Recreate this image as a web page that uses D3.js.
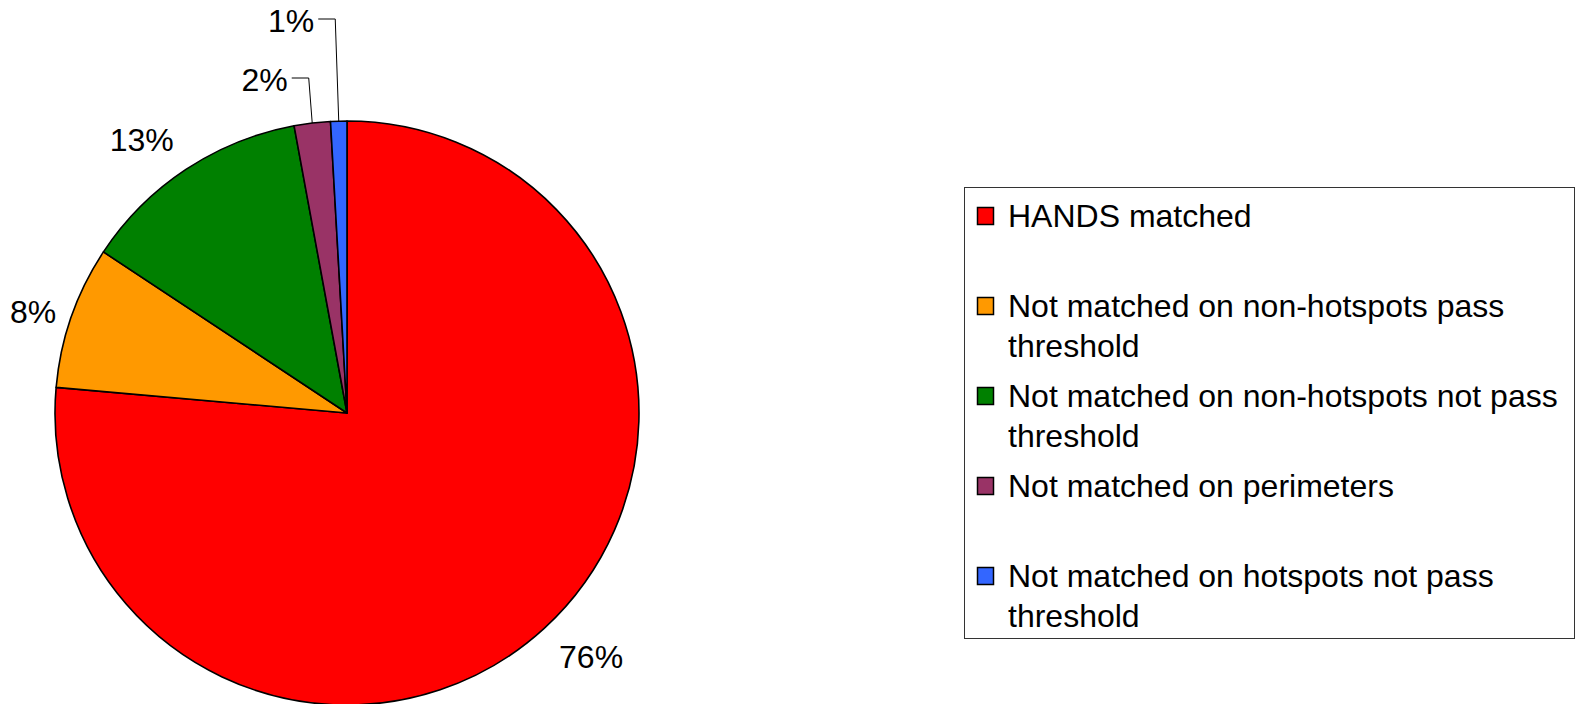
<!DOCTYPE html>
<html>
<head>
<meta charset="utf-8">
<script src="https://cdn.jsdelivr.net/npm/d3@7"></script>
<style>
  html, body { margin: 0; padding: 0; background: #fff; }
  svg { display: block; }
  text { font-family: "Liberation Sans", Arial, sans-serif; fill: #000; }
</style>
</head>
<body>
<svg id="chart" width="1583" height="704"></svg>
<script>
// Share of records by match outcome (percent)
const categories = [
  "HANDS matched",
  "Not matched on non-hotspots pass threshold",
  "Not matched on non-hotspots not pass threshold",
  "Not matched on perimeters",
  "Not matched on hotspots not pass threshold"
];
const values = [76.4, 7.9, 12.8, 2.0, 0.9];
const colors = ["#ff0000", "#ff9900", "#008000", "#993366", "#3366ff"];
// Legend text, wrapped into lines
const legendLines = [
  ["HANDS matched"],
  ["Not matched on non-hotspots pass", "threshold"],
  ["Not matched on non-hotspots not pass", "threshold"],
  ["Not matched on perimeters"],
  ["Not matched on hotspots not pass", "threshold"]
];

const svg = d3.select("#chart");
const cx = 347, cy = 413, r = 292;
const fontSize = 32;

const total = d3.sum(values);
const fmt = v => Math.round(v / total * 100) + "%";

const pie = d3.pie().sort(null).value(d => d).startAngle(0).endAngle(2 * Math.PI);
const arcs = pie(values);
const arc = d3.arc().innerRadius(0).outerRadius(r);

const g = svg.append("g").attr("transform", `translate(${cx},${cy})`);

g.selectAll("path.slice")
  .data(arcs)
  .join("path")
  .attr("class", "slice")
  .attr("d", arc)
  .attr("fill", (d, i) => colors[i])
  .attr("stroke", "#000")
  .attr("stroke-width", 1.6)
  .attr("stroke-linejoin", "round");

// Percentage labels: the box side or corner facing the pie is anchored
// just outside the rim, chosen by which of eight sectors the slice points to.
const capH = 23;
let smallIdx = 0;
arcs.forEach((d, i) => {
  const mid = (d.startAngle + d.endAngle) / 2;
  const dx = Math.sin(mid), dy = -Math.cos(mid);
  const pct = d.value / total * 100;
  const t = g.append("text")
    .attr("font-size", fontSize)
    .text(fmt(d.value));
  const w = t.node().getComputedTextLength();

  if (pct < 3) {
    // small slices near the top: label lifted above the pie with a leader line
    const ex = r * dx, ey = r * dy;
    const ly = -r - 43 - 59 * smallIdx;
    const kx = ex - 3.5;
    g.append("polyline")
      .attr("points", [[ex, ey], [kx, ly], [kx - 17, ly]].map(p => p.join(",")).join(" "))
      .attr("fill", "none")
      .attr("stroke", "#000")
      .attr("stroke-width", 1);
    t.attr("text-anchor", "end")
      .attr("x", kx - 21)
      .attr("y", ly + capH / 2 + 1);
    smallIdx++;
  } else {
    // math angle in degrees, counter-clockwise from 3 o'clock
    let deg = (90 - mid * 180 / Math.PI) % 360;
    if (deg < 0) deg += 360;
    const sector = Math.round(deg / 45) % 8;
    const corner = sector % 2 === 1;
    const rr = r + (corner ? 22 : 16);
    const ax = rr * dx, ay = rr * dy;
    // horizontal alignment factor: 0 = left edge at anchor, 1 = right edge at anchor
    const hx = [0, 0, 0.5, 1, 1, 1, 0.5, 0][sector];
    // vertical: 0 = top at anchor, 1 = bottom at anchor
    const vy = [0.5, 1, 1, 1, 0.5, 0, 0, 0][sector];
    const left = ax - hx * w;
    const top = ay - vy * capH;
    t.attr("text-anchor", "start")
      .attr("x", left)
      .attr("y", top + capH);
  }
});

// Legend
const legend = svg.append("g");
legend.append("rect")
  .attr("x", 964.5).attr("y", 187.5)
  .attr("width", 610).attr("height", 451)
  .attr("fill", "#fff")
  .attr("stroke", "#333")
  .attr("stroke-width", 1);

const rowY = d3.scalePoint().domain(d3.range(categories.length)).range([227, 587]);
const lineGap = 40;

categories.forEach((c, i) => {
  const base = rowY(i);
  legend.append("rect")
    .attr("x", 977.5).attr("y", base - 19.5)
    .attr("width", 16).attr("height", 17)
    .attr("fill", colors[i])
    .attr("stroke", "#000")
    .attr("stroke-width", 1.5);
  const t = legend.append("text")
    .attr("x", 1008)
    .attr("y", base)
    .attr("font-size", fontSize);
  legendLines[i].forEach((ln, k) => {
    t.append("tspan").attr("x", 1008).attr("y", base + k * lineGap).text(ln);
  });
});
</script>
</body>
</html>
